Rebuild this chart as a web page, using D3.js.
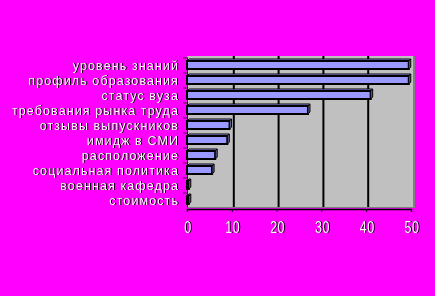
<!DOCTYPE html>
<html>
<head>
<meta charset="utf-8">
<script src="https://cdn.jsdelivr.net/npm/d3@7.9.0/dist/d3.min.js"></script>
<style>
  html, body { margin: 0; padding: 0; background: #ff00ff; }
  svg { display: block; }
  text {
    font-family: "Liberation Sans", Arial, sans-serif;
    fill: #fff;
    filter: drop-shadow(1px 0 0 #000);
  }
</style>
</head>
<body>
<svg id="chart" width="435" height="296"></svg>
<script>
// categories, top to bottom
const categories = [
  'уровень знаний',
  'профиль образования',
  'статус вуза',
  'требования рынка труда',
  'отзывы выпускников',
  'имидж в СМИ',
  'расположение',
  'социальная политика',
  'военная кафедра',
  'стоимость'
];
const values = [49.5, 49.5, 41, 27, 9.5, 9, 6.3, 5.6, 0.4, 0.4];
const ticks = [0, 10, 20, 30, 40, 50];

const svg = d3.select('#chart');
const depth = 2;

const x = d3.scaleLinear().domain([0, 50]).range([187, 411]);
const y = d3.scaleBand().domain(categories).range([57, 207]).padding(0);

// walls
svg.append('rect')
  .attr('x', 187).attr('y', 56)
  .attr('width', 227).attr('height', 152)
  .attr('fill', '#c0c0c0');
svg.append('line')
  .attr('x1', 414).attr('x2', 414).attr('y1', 56).attr('y2', 208)
  .attr('stroke', '#808080').attr('stroke-width', 2);
svg.append('line')
  .attr('x1', 187).attr('x2', 414).attr('y1', 207.5).attr('y2', 207.5)
  .attr('stroke', '#808080').attr('stroke-width', 1);

// gridlines on back wall
svg.selectAll('.grid')
  .data(ticks.slice(1, 5))
  .join('line')
  .attr('x1', (d) => x(d) + depth).attr('x2', (d) => x(d) + depth)
  .attr('y1', 56).attr('y2', 207)
  .attr('stroke', '#000').attr('stroke-width', 2);

// bars
const bars = svg.selectAll('.bar')
  .data(categories.map((c, i) => ({ label: c, value: values[i] })))
  .join('g');

bars.each(function (d) {
  const g = d3.select(this);
  const top = y(d.label) + y.bandwidth() / 2 - 3.5;
  const bot = top + 8;
  const x0 = x(0);
  const x1 = x(d.value);
  // top face
  g.append('path')
    .attr('d', `M${x0},${top}L${x0 + depth},${top - depth}L${x1 + depth},${top - depth}L${x1},${top}Z`)
    .attr('fill', '#9999ff').attr('stroke', '#000').attr('stroke-width', 1);
  // front face
  g.append('rect')
    .attr('x', x0).attr('y', top)
    .attr('width', x1 - x0).attr('height', bot - top)
    .attr('fill', '#9999ff').attr('stroke', '#000').attr('stroke-width', 2);
  // end face
  g.append('path')
    .attr('d', `M${x1},${top}L${x1 + depth},${top - depth}L${x1 + depth},${bot - depth}L${x1},${bot}Z`)
    .attr('fill', '#666699').attr('stroke', '#000').attr('stroke-width', 1);
});

// axes
const xAxis = svg.append('g').attr('transform', 'translate(0,209)')
  .call(d3.axisBottom(x).tickValues(ticks).tickSize(3).tickFormat(''));
xAxis.select('.domain').attr('stroke', '#000').attr('stroke-width', 1.5);

const yAxis = svg.append('g').attr('transform', 'translate(187,0)')
  .call(d3.axisLeft(y).tickSize(0).tickFormat(''));
yAxis.select('.domain').attr('stroke', '#000');
svg.selectAll('.cattick')
  .data(categories)
  .join('line')
  .attr('x1', 183).attr('x2', 187)
  .attr('y1', (d) => y(d) + 1).attr('y2', (d) => y(d) + 1)
  .attr('stroke', '#333');

// category labels
svg.selectAll('.cat')
  .data(categories)
  .join('text')
  .attr('x', 179)
  .attr('y', (d) => y(d) + y.bandwidth() / 2 + 5.5)
  .attr('text-anchor', 'end')
  .attr('font-size', 12.5)
  .attr('letter-spacing', 1.1)
  .text((d) => d);

// value axis labels
svg.selectAll('.tl')
  .data(ticks)
  .join('text')
  .attr('transform', (d) => `translate(${x(d) + 1},233) scale(1,1.35)`)
  .attr('text-anchor', 'middle')
  .attr('font-size', 12.5)
  .attr('letter-spacing', 0.5)
  .text((d) => d);
</script>
</body>
</html>
